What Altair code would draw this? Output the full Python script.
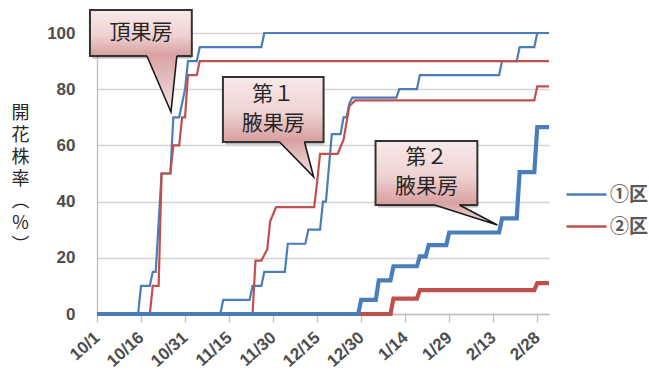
import json
import altair as alt
import pandas as pd

# ---------------- data (days after 10/1, percent) ----------------
xlabels = ["10/1", "10/16", "10/31", "11/15", "11/30", "12/15", "12/30",
           "1/14", "1/29", "2/13", "2/28"]
xticks = [0, 15, 30, 45, 60, 75, 90, 105, 120, 135, 150]
yticks = [0, 20, 40, 60, 80, 100]
plots = ["①区", "②区"]
colors = ["#4a7ebb", "#c0504d"]
clusters = ["頂果房", "第1腋果房", "第2腋果房"]

b_top_day = [0, 14, 15, 18, 19, 20, 22, 25, 26, 28, 30, 31, 34, 35, 56, 57, 154]
b_top_val = [0, 0, 10, 10, 15, 15, 50, 50, 70, 70, 80, 90, 90, 95, 95, 100, 100]

r_top_day = [0, 18, 19, 21, 22, 25, 26, 28, 29, 30, 31, 34, 35, 154]
r_top_val = [0, 0, 10, 10, 50, 50, 60, 60, 70, 70, 85, 85, 90, 90]

b_1st_day = [0, 42, 43, 52, 53, 56, 57, 64, 65, 71, 72, 76, 77, 78, 80, 83, 84,
             85, 86, 87, 102, 103, 109, 110, 137, 138, 143, 144, 149, 150, 154]
b_1st_val = [0, 0, 5, 5, 10, 10, 15, 15, 25, 25, 30, 30, 40, 40, 64, 64, 70,
             70, 75, 77, 77, 80, 80, 85, 85, 90, 90, 95, 95, 100, 100]

r_1st_day = [0, 53, 54, 56, 58, 59, 61, 74, 75, 76, 82, 84, 86, 88, 149, 150, 154]
r_1st_val = [0, 0, 19, 19, 23, 33, 38, 38, 47, 57, 57, 62, 74, 76, 76, 81, 81]

b_2nd_day = [0, 89, 90, 95, 96, 100, 101, 109, 110, 112, 113, 119, 120, 137,
             138, 143, 144, 149, 150, 154]
b_2nd_val = [0, 0, 5, 5, 12, 12, 17, 17, 20.5, 20.5, 24.5, 24.5, 29, 29,
             34, 34, 50.5, 50.5, 66.5, 66.5]

r_2nd_day = [0, 100, 101, 109, 110, 149, 150, 154]
r_2nd_val = [0, 0, 5.5, 5.5, 8.5, 8.5, 11, 11]

# callout annotations (in data units: day / percent)
call_labels = ["頂果房", "第１\n腋果房", "第２\n腋果房"]
call_x0 = [-2.4, 42.9, 94.9]
call_x1 = [32.3, 77.2, 129.6]
call_y0 = [91.8, 61.2, 38.8]
call_y1 = [108.2, 84.3, 61.6]
ptr_bx0 = [17.0, 62.2, 115.0]
ptr_bx1 = [27.2, 70.7, 123.5]
ptr_tx = [25.2, 73.8, 136.4]
ptr_ty = [71.9, 48.8, 31.7]

# ---------------- tables ----------------
rows = []
series = [
    ("①区", "頂果房", b_top_day, b_top_val),
    ("②区", "頂果房", r_top_day, r_top_val),
    ("①区", "第1腋果房", b_1st_day, b_1st_val),
    ("②区", "第1腋果房", r_1st_day, r_1st_val),
    ("①区", "第2腋果房", b_2nd_day, b_2nd_val),
    ("②区", "第2腋果房", r_2nd_day, r_2nd_val),
]
for plot, cl, ds, vs in series:
    for d, v in zip(ds, vs):
        rows.append({"day": d, "value": v, "区": plot, "果房": cl})
df = pd.DataFrame(rows)

boxes = pd.DataFrame({
    "label": call_labels, "x0": call_x0, "x1": call_x1,
    "y0": call_y0, "y1": call_y1,
})
ptr_rows, edge_rows = [], []
for i in range(len(call_labels)):
    ptr_rows.append({"id": i, "py": call_y0[i] + 0.7, "px0": ptr_bx0[i] + 0.2, "px1": ptr_bx1[i] - 0.2})
    ptr_rows.append({"id": i, "py": call_y0[i], "px0": ptr_bx0[i], "px1": ptr_bx1[i]})
    ptr_rows.append({"id": i, "py": ptr_ty[i], "px0": ptr_tx[i], "px1": ptr_tx[i]})
    edge_rows.append({"id": i, "k": 0, "ex": ptr_bx0[i], "ey": call_y0[i]})
    edge_rows.append({"id": i, "k": 1, "ex": ptr_tx[i], "ey": ptr_ty[i]})
    edge_rows.append({"id": i, "k": 2, "ex": ptr_bx1[i], "ey": call_y0[i]})
ptrs = pd.DataFrame(ptr_rows)
edges = pd.DataFrame(edge_rows)

# ---------------- encodings ----------------
label_expr = f"{json.dumps(xlabels, ensure_ascii=False)}[indexof({json.dumps(xticks)}, datum.value)]"

xscale = alt.Scale(domain=[0, 154], nice=False, zero=False)
yscale = alt.Scale(domain=[0, 100], nice=False)

x_axis = alt.Axis(
    values=xticks, labelExpr=label_expr, labelAngle=318, labelAlign="right",
    labelBaseline="middle", labelPadding=13, labelFontSize=17,
    labelFont="Liberation Sans", labelFontWeight="bold", labelColor="#4d4d4d",
    tickSize=8, tickColor="#bfbfbf", tickWidth=1.3, domainColor="#bfbfbf",
    domainWidth=1.3, grid=False, title=None, labelOverlap=False)

y_axis = alt.Axis(
    values=yticks, grid=True, gridColor="#d4d4d4", gridWidth=1.4,
    domain=True, domainColor="#bfbfbf", domainWidth=1.3, ticks=False,
    labelPadding=22, labelFontSize=17, labelFont="Liberation Sans",
    labelFontWeight="bold", labelColor="#4d4d4d",
    title=["開", "花", "株", "率", "︵", "％", "︶"], titleAngle=0,
    titleX=-77, titleY=80, titleAlign="center", titleBaseline="middle",
    titleLineHeight=22, titleFontSize=18, titleFont="Noto Sans CJK JP",
    titleFontWeight="normal", titleColor="#262626")

X = lambda f: alt.X(f, scale=xscale, axis=x_axis)
Y = lambda f: alt.Y(f, scale=yscale, axis=y_axis)

legend = alt.Legend(
    title=None, orient="none", legendX=468, legendY=140,
    symbolType="stroke", symbolSize=1600, symbolStrokeWidth=2.5,
    labelFontSize=19, labelFont="Noto Sans CJK JP", labelFontWeight="bold",
    labelColor="#595959", labelOffset=2, rowPadding=0, padding=0)

color_enc = alt.Color("区:N", scale=alt.Scale(domain=plots, range=colors), legend=legend)

base = alt.Chart(df)


def lines(plot, thick):
    if thick:
        flt = alt.FieldEqualPredicate(field="果房", equal="第2腋果房")
    else:
        flt = alt.FieldOneOfPredicate(field="果房", oneOf=["頂果房", "第1腋果房"])
    return (base.transform_filter(alt.FieldEqualPredicate(field="区", equal=plot))
            .transform_filter(flt)
            .mark_line(strokeWidth=4.2 if thick else 2.2, strokeJoin="miter")
            .encode(x=X("day:Q"), y=Y("value:Q"), color=color_enc, detail="果房:N"))


layer_lines = [lines("①区", False), lines("②区", False),
               lines("②区", True), lines("①区", True)]

box_grad = alt.Gradient(gradient="linear", x1=0, x2=0, y1=0, y2=1, stops=[
    alt.GradientStop(color="#f8e9e9", offset=0),
    alt.GradientStop(color="#efd2d2", offset=0.55),
    alt.GradientStop(color="#d79d9d", offset=1)])
ptr_grad = alt.Gradient(gradient="linear", x1=0, x2=0, y1=0, y2=1, stops=[
    alt.GradientStop(color="#d9a1a1", offset=0),
    alt.GradientStop(color="#f4e4e4", offset=1)])

shadow = alt.Chart(boxes).mark_rect(fill="#7a7a7a", opacity=0.55, xOffset=2.5, yOffset=2.5).encode(
    x=X("x0:Q"), x2="x1:Q", y=Y("y0:Q"), y2="y1:Q")
box = alt.Chart(boxes).mark_rect(fill=box_grad, stroke="#333333", strokeWidth=2).encode(
    x=X("x0:Q"), x2="x1:Q", y=Y("y0:Q"), y2="y1:Q")
ptr = alt.Chart(ptrs).mark_area(orient="horizontal", fill=ptr_grad).encode(
    y=Y("py:Q"), x=X("px0:Q"), x2="px1:Q", detail="id:N")
edge = alt.Chart(edges).mark_line(stroke="#1a1a1a", strokeWidth=1.6).encode(
    x=X("ex:Q"), y=Y("ey:Q"), detail="id:N", order="k:Q")
txt = (alt.Chart(boxes)
       .transform_calculate(
           cx="(datum.x0 + datum.x1) / 2",
           cy="(datum.y0 + datum.y1) / 2 + (length(split(datum.label, '\\n')) - 1) * 5.2")
       .mark_text(font="Noto Sans CJK JP", fontSize=21, lineHeight=29, color="#262626",
                  lineBreak="\n", baseline="middle", align="center")
       .encode(x=X("cx:Q"), y=Y("cy:Q"), text="label:N"))

chart = (alt.layer(*layer_lines, shadow, box, ptr, edge, txt)
         .properties(width=452, height=281,
                     padding={"left": 97, "top": 33, "right": 100, "bottom": 63},
                     autosize=alt.AutoSizeParams(type="none"),
                     background="white")
         .configure_view(stroke=None))

chart.save("out.html", embed_options={"renderer": "svg", "actions": False})
